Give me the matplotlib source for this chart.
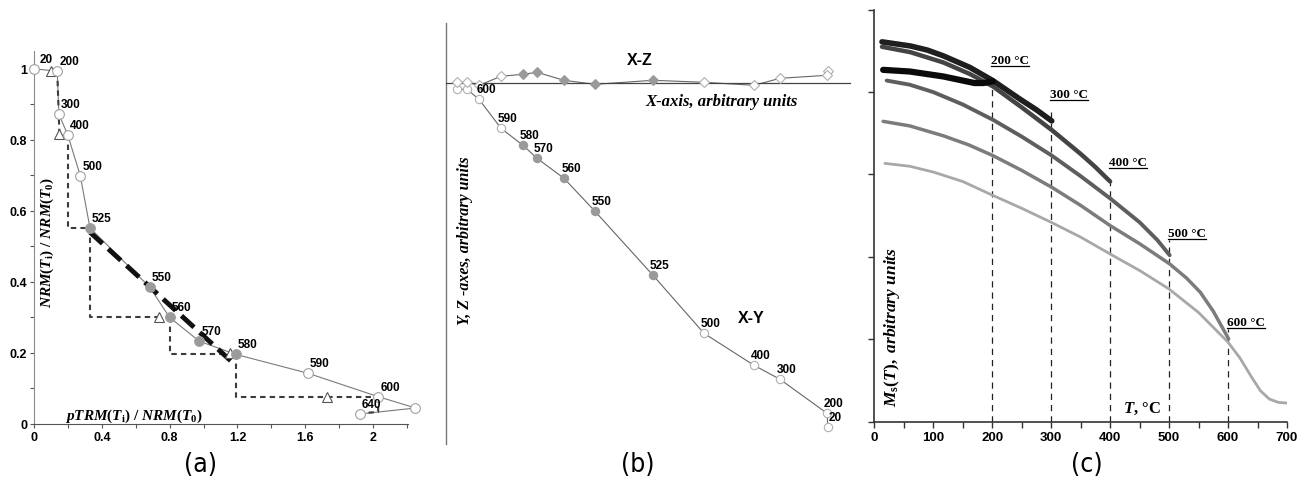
import matplotlib
matplotlib.use('Agg')
import matplotlib.pyplot as plt
from matplotlib.ticker import MultipleLocator, FuncFormatter

plt.rcParams['font.family'] = ['Liberation Sans', 'DejaVu Sans']
plt.rcParams['font.weight'] = 'bold'
plt.rcParams['mathtext.fontset'] = 'custom'
plt.rcParams['mathtext.it'] = 'Liberation Serif:italic:bold'
plt.rcParams['mathtext.rm'] = 'Liberation Serif:bold'
plt.rcParams['mathtext.bf'] = 'Liberation Serif:bold'

SERIF = ['Liberation Serif', 'DejaVu Serif']

# ---- (a) Arai plot ----
temps_a = [20, 200, 300, 400, 500, 525, 550, 560, 570, 580, 590, 600, 620, 640]
ptrm_a = [0.0, 0.137, 0.147, 0.199, 0.273, 0.33, 0.683, 0.80, 0.975, 1.19, 1.615, 2.03, 2.25, 1.92]
nrm_a = [1.0, 0.993, 0.872, 0.814, 0.699, 0.552, 0.385, 0.30, 0.233, 0.196, 0.143, 0.077, 0.045, 0.028]
check_x = [0.10, 0.15, 0.737, 1.156, 1.727]
check_y = [0.994, 0.816, 0.30, 0.20, 0.076]
step_x = [[0.137, 0.15], [0.199, 0.199, 0.33], [0.33, 0.33, 0.737],
          [0.80, 0.80, 1.156], [1.19, 1.19, 2.0], [2.03, 2.03, 1.95]]
step_y = [[0.993, 0.816], [0.814, 0.552, 0.552], [0.552, 0.30, 0.30],
          [0.30, 0.196, 0.196], [0.196, 0.076, 0.076], [0.076, 0.034, 0.031]]
fit_x = [0.33, 1.19]
fit_y = [0.54, 0.165]
filled_temps = [525, 550, 560, 570, 580]

# ---- (b) Zijderveld diagram ----
temps_b = [20, 200, 300, 400, 500, 525, 550, 560, 570, 580, 590, 600, 620, 640]
x_b = [3.82, 3.81, 3.34, 3.08, 2.58, 2.07, 1.49, 1.18, 0.91, 0.77, 0.55, 0.33, 0.21, 0.11]
y_b = [-3.44, -3.30, -2.96, -2.82, -2.50, -1.92, -1.28, -0.95, -0.75, -0.62, -0.45, -0.16, -0.06, -0.06]
z_b = [0.12, 0.08, 0.05, -0.02, 0.01, 0.03, -0.01, 0.03, 0.11, 0.09, 0.07, -0.02, 0.01, 0.01]
labels_b = [20, 200, 300, 400, 500, 525, 550, 560, 570, 580, 590, 600]

# ---- (c) Ms(T) curves ----
T200 = [15, 60, 117, 150, 170, 185, 201]
M200 = [0.854, 0.850, 0.838, 0.828, 0.822, 0.822, 0.826]
T300 = [13, 61, 90, 117, 162, 201, 247, 275, 301]
M300 = [0.922, 0.912, 0.902, 0.888, 0.860, 0.828, 0.783, 0.757, 0.730]
T400 = [13, 61, 117, 162, 201, 250, 301, 350, 375, 400]
M400 = [0.910, 0.897, 0.872, 0.844, 0.814, 0.763, 0.708, 0.650, 0.618, 0.583]
T500 = [21, 60, 100, 150, 201, 250, 301, 350, 400, 450, 480, 501]
M500 = [0.828, 0.818, 0.800, 0.770, 0.733, 0.692, 0.646, 0.596, 0.542, 0.484, 0.441, 0.404]
T600 = [15, 60, 117, 160, 201, 250, 301, 350, 400, 450, 501, 530, 553, 575, 601]
M600 = [0.729, 0.718, 0.694, 0.672, 0.646, 0.610, 0.569, 0.525, 0.476, 0.432, 0.383, 0.348,
        0.314, 0.268, 0.201]
T700 = [18, 60, 100, 150, 200, 250, 300, 350, 400, 450, 500, 550, 600, 620, 640, 655,
        670, 685, 701]
M700 = [0.627, 0.620, 0.606, 0.583, 0.550, 0.518, 0.484, 0.448, 0.407, 0.367, 0.322, 0.265,
        0.193, 0.155, 0.108, 0.075, 0.055, 0.047, 0.045]
curves_T = [T700, T600, T500, T400, T300, T200]
curves_M = [M700, M600, M500, M400, M300, M200]
curve_colors = ['#a8a8a8', '#7c7c7c', '#5e5e5e', '#444444', '#1e1e1e', '#0a0a0a']
curve_widths = [2.0, 2.5, 2.8, 3.2, 4.0, 4.5]
dash_T = [200, 300, 400, 500, 600]
dash_top = [0.842, 0.764, 0.600, 0.441, 0.225]
label_y = [0.863, 0.781, 0.616, 0.443, 0.228]

fig = plt.figure(figsize=(13.09, 4.81), dpi=100)

# ================= (a) =================
ax1 = fig.add_axes([34/1309, 56/481, 374/1309, 373/481])
ax1.plot(ptrm_a, nrm_a, color='#7a7a7a', lw=0.8, zorder=2, clip_on=False)
for sx, sy in zip(step_x, step_y):
    ax1.plot(sx, sy, color='#3c3c3c', lw=1.5, dashes=(2.6, 2.0), zorder=3)
ax1.plot(fit_x, fit_y, color='#111111', lw=3.5, dashes=(3.5, 1.6), zorder=4)
ax1.plot(check_x, check_y, ls='none', marker='^', ms=6.5, mfc='white',
         mec='#555555', mew=0.8, zorder=5, clip_on=False)
for t, x, y in zip(temps_a, ptrm_a, nrm_a):
    fc = '#9a9a9a' if t in filled_temps else 'white'
    ax1.plot(x, y, ls='none', marker='o', ms=7, mfc=fc, mec='#a0a0a0', mew=0.8,
             zorder=6, clip_on=False)
    ax1.annotate(str(t), (x, y), xytext=(12, 10), textcoords='offset pixels',
                 ha='center', va='center', fontsize=8.5, fontweight='bold', zorder=7)
ax1.set_xlim(0, 2.206)
ax1.set_ylim(0, 1.05)
ax1.xaxis.set_major_locator(MultipleLocator(0.4))
ax1.xaxis.set_minor_locator(MultipleLocator(0.2))
ax1.yaxis.set_major_locator(MultipleLocator(0.2))
ax1.yaxis.set_minor_locator(MultipleLocator(0.1))
fmt = FuncFormatter(lambda v, p: '%g' % round(v, 2))
ax1.xaxis.set_major_formatter(fmt)
ax1.yaxis.set_major_formatter(fmt)
for s in ['top', 'right']:
    ax1.spines[s].set_visible(False)
ax1.spines['left'].set_color('#8a8a8a')
ax1.spines['bottom'].set_color('#555555')
ax1.tick_params(which='both', direction='out', length=3, width=0.8,
                colors='#555555', labelcolor='black', labelsize=9, pad=2)
ax1.text(0.077, 0.514, r'$\mathit{NRM(T}_{\mathrm{i}}\mathit{)\ /\ NRM(T}_{\mathrm{0}}\mathit{)}$',
         rotation=90, ha='center', va='center', fontsize=11)
ax1.text(0.59, 0.025, r'$\mathit{pTRM(T}_{\mathrm{i}}\mathit{)\ /\ NRM(T}_{\mathrm{0}}\mathit{)}$',
         ha='center', va='center', fontsize=11)

# ================= (b) =================
ax2 = fig.add_axes([446/1309, 36/481, 404/1309, 421/481])
ax2.plot(x_b, y_b, color='#666666', lw=0.8, zorder=2)
ax2.plot(x_b, z_b, color='#666666', lw=0.8, zorder=2)
for t, x, y, z in zip(temps_b, x_b, y_b, z_b):
    fc = '#9a9a9a' if t in filled_temps else 'white'
    ec = '#9a9a9a' if t in filled_temps else '#b0b0b0'
    ax2.plot(x, y, ls='none', marker='o', ms=6, mfc=fc, mec=ec, mew=0.8, zorder=4)
    ax2.plot(x, z, ls='none', marker='D', ms=5, mfc=fc, mec=ec, mew=0.8, zorder=4)
    if t in labels_b:
        ax2.annotate(str(t), (x, y), xytext=(7, 10), textcoords='offset pixels',
                     ha='center', va='center', fontsize=8.5, fontweight='bold', zorder=6)
ax2.set_xlim(0, 4.04)
ax2.set_ylim(-3.607, 0.603)
for s in ['top', 'right']:
    ax2.spines[s].set_visible(False)
ax2.spines['bottom'].set_position(('data', 0))
ax2.spines['left'].set_color('#777777')
ax2.spines['bottom'].set_color('#444444')
ax2.spines['left'].set_linewidth(1.0)
ax2.spines['bottom'].set_linewidth(0.9)
ax2.set_xticks([])
ax2.set_yticks([])
ax2.text(1.94, 0.233, 'X-Z', ha='center', va='center', fontsize=11.5, fontweight='bold')
ax2.text(3.05, -2.34, 'X-Y', ha='center', va='center', fontsize=11.5, fontweight='bold')
ax2.text(2.76, -0.177, 'X-axis, arbitrary units', ha='center', va='center', fontsize=12,
         family=SERIF, style='italic', fontweight='bold')
ax2.text(0.19, -1.56, 'Y, Z -axes, arbitrary units', rotation=90, ha='center', va='center',
         fontsize=11.5, family=SERIF, style='italic', fontweight='bold')

# ================= (c) =================
ax3 = fig.add_axes([874.3/1309, 58.3/481, 412.7/1309, 412/481])
for Tc, Mc, col, lw in zip(curves_T, curves_M, curve_colors, curve_widths):
    ax3.plot(Tc, Mc, color=col, lw=lw, solid_capstyle='round', solid_joinstyle='round',
             zorder=3)
for t, top in zip(dash_T, dash_top):
    ax3.plot([t, t], [0, top], color='#222222', lw=0.9, dashes=(5, 4), zorder=2)
label_texts = []
for t, ly in zip(dash_T, label_y):
    txt = ax3.text(t - 2, ly + 0.007, '%d °C' % t, ha='left', va='baseline',
                   fontsize=9.5, family=SERIF, fontweight='bold', zorder=5)
    label_texts.append((txt, ly))
ax3.set_xlim(0, 700)
ax3.set_ylim(0, 1)
ax3.xaxis.set_major_locator(MultipleLocator(100))
ax3.xaxis.set_minor_locator(MultipleLocator(50))
ax3.yaxis.set_major_locator(MultipleLocator(0.2))
ax3.set_yticklabels([])
for s in ['top', 'right']:
    ax3.spines[s].set_visible(False)
for s in ['left', 'bottom']:
    ax3.spines[s].set_color('#333333')
    ax3.spines[s].set_linewidth(1.2)
ax3.tick_params(which='both', direction='out', length=4, width=1, colors='#333333',
                labelcolor='black', labelsize=9.5, pad=3)
ax3.text(454, 0.033, r'$\mathit{T}$, °C', ha='center', va='center', fontsize=12,
         family=SERIF, fontweight='bold')
ax3.text(30, 0.232, r'$\mathit{M}_{\mathrm{s}}\mathit{(T),\ arbitrary\ units}$', rotation=90,
         ha='center', va='center', fontsize=12.5)

# captions
for xc, cap in zip([201, 638, 1087], ['(a)', '(b)', '(c)']):
    fig.text(xc/1309, 1 - 465/481, cap, ha='center', va='center', fontsize=19,
             fontweight='normal', fontstretch='condensed', family=['DejaVu Sans'])

# underline the temperature labels in (c)
fig.canvas.draw()
inv = ax3.transData.inverted()
for txt, ly in label_texts:
    bb = txt.get_window_extent()
    x0 = inv.transform((bb.x0, bb.y0))[0]
    x1 = inv.transform((bb.x1, bb.y0))[0]
    ax3.plot([x0, x1], [ly, ly], color='black', lw=0.9, zorder=5)

fig.savefig('out.png', dpi=100)
